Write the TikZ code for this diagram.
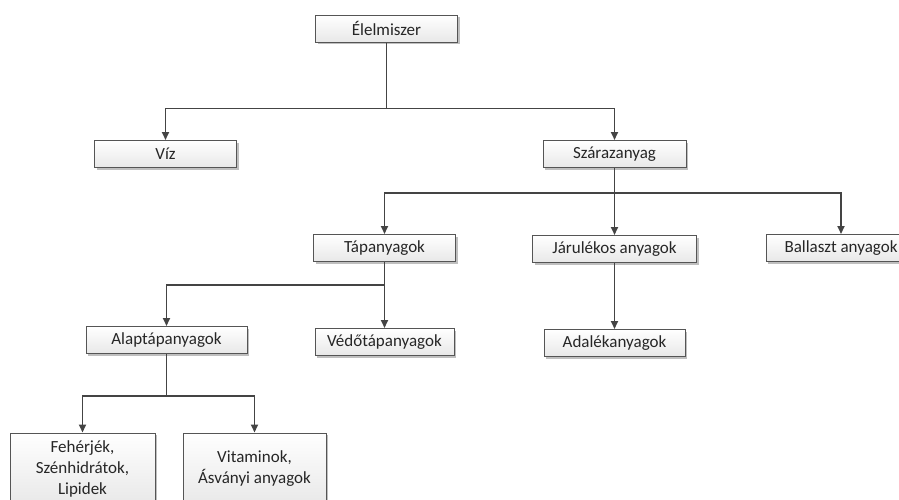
\documentclass[tikz,border=0pt]{standalone}
\usepackage{fontspec}
\setmainfont{Carlito}
\usetikzlibrary{positioning, arrows.meta, shadows}
\definecolor{keret}{HTML}{555555}
\definecolor{vonal}{HTML}{444444}

\begin{document}
\begin{tikzpicture}[
    x=1pt, y=-1pt,
    node distance=66pt,
    doboz/.style={
        rectangle, draw=keret, line width=1pt,
        top color=white, bottom color=black!9,
        text=black!85, align=center, font=\fontsize{17}{21}\selectfont,
        inner sep=0pt, minimum height=27pt,
        drop shadow={shadow xshift=2pt, shadow yshift=-2pt, opacity=0.25, fill=black}
    },
    nyil/.style={-{Triangle[length=8pt,width=7pt]}, line width=1.7pt, draw=vonal}
]
\useasboundingbox (0,0) rectangle (899,499);

\node[doboz, minimum width=142pt] (elelmiszer) at (386.5,28.5) {Élelmiszer};
\node[doboz, minimum width=142pt] (viz) at (165.5,154) {Víz};
\node[doboz, minimum width=143pt] (szaraz) at (614.5,154) {Szárazanyag};
\node[doboz, minimum width=142pt] (tap) at (384.5,248) {Tápanyagok};
\node[doboz, minimum width=164pt, below=67pt of szaraz] (jarulek) {Járulékos anyagok};
\node[doboz, minimum width=150pt] (ballaszt) at (841,248) {Ballaszt anyagok};
\node[doboz, minimum width=161pt] (alap) at (166.5,340) {Alaptápanyagok};
\node[doboz, minimum width=139pt, below=of tap] (vedo) {Védőtápanyagok};
\node[doboz, minimum width=141pt, below=of jarulek] (adalek) {Adalékanyagok};
\node[doboz, minimum width=145pt, minimum height=72pt] (feherje) at (82.5,469) {Fehérjék,\\Szénhidrátok,\\Lipidek};
\node[doboz, minimum width=143pt, minimum height=72pt] (vitamin) at (254.5,469) {Vitaminok,\\Ásványi anyagok};

% elagazasok
\draw[nyil] (elelmiszer.south) -- ++(0,66) -| (viz.north);
\draw[nyil] (elelmiszer.south) -- ++(0,66) -| (szaraz.north);
\draw[nyil] (szaraz.south) -- ++(0,25) -| (tap.north);
\draw[nyil] (szaraz.south) -- (jarulek.north);
\draw[nyil] (szaraz.south) -- ++(0,25) -| (ballaszt.north);
\draw[nyil] (tap.south) -- ++(0,23) -| (alap.north);
\draw[nyil] (tap.south) -- (vedo.north);
\draw[nyil] (jarulek.south) -- (adalek.north);
\draw[nyil] (alap.south) -- ++(0,42) -| (feherje.north);
\draw[nyil] (alap.south) -- ++(0,42) -| (vitamin.north);
\end{tikzpicture}
\end{document}
